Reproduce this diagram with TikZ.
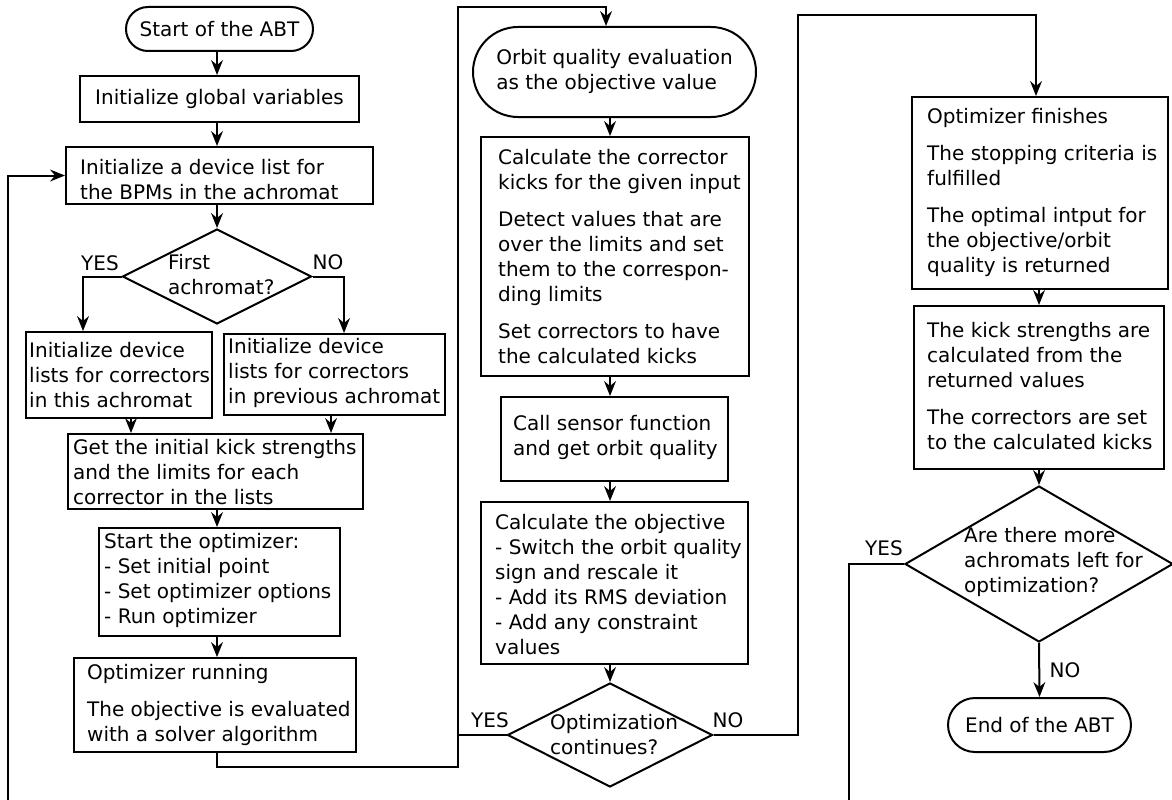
\documentclass[tikz,border=0pt]{standalone}
\usepackage{fontspec}
\setmainfont{DejaVu Sans}
\usetikzlibrary{shapes.geometric,shapes.misc,arrows.meta,calc}

\begin{document}
\begin{tikzpicture}[x=1pt,y=-1pt,
  every node/.style={font=\fontsize{20}{25}\selectfont},
  sz/.style 2 args={minimum width=#1, minimum height=#2},
  box/.style={draw, line width=2pt, rectangle, inner sep=0pt},
  term/.style={draw, line width=2pt, rounded rectangle, inner sep=0pt},
  dec/.style={draw, line width=2pt, diamond, inner sep=0pt},
  txt/.style={anchor=west, align=left, inner sep=0pt},
  lbl/.style={inner sep=0pt},
  wire/.style={line width=2pt},
  arr/.style={wire, -{Stealth[length=15pt,width=12pt,inset=5pt,line width=0pt]}}
]
\useasboundingbox (0,0) rectangle (1172,800);

% ---------- first column ----------
\node[term, sz={187pt}{44pt}] (start) at (219.5,29) {Start of the ABT};
\node[box, sz={279pt}{46pt}] (glob) at (219.5,99) {Initialize global variables};
\node[box, sz={307pt}{57pt}] (dev) at (219.5,175.5) {};
\node[txt] (devT) at (80,180) {Initialize a device list for\\the BPMs in the achromat};
\node[dec, sz={189pt}{95pt}] (first) at (217,276.5) {};
\node[txt] (firstT) at (168,275) {First\\achromat?};
\node[box, sz={186pt}{86pt}] (thisL) at (119,375) {};
\node[txt] (thisT) at (29,375) {Initialize device\\lists for correctors\\in this achromat};
\node[box, sz={221pt}{81pt}] (prevR) at (334.5,374.5) {};
\node[txt] (prevT) at (228,373) {Initialize device\\lists for correctors\\in previous achromat};
\node[box, sz={295pt}{75pt}] (kick) at (215.5,471.5) {};
\node[txt] (kickT) at (73,472) {Get the initial kick strengths\\and the limits for each\\corrector in the lists};
\node[box, sz={241pt}{108pt}] (sopt) at (219.5,582) {};
\node[txt] (soptT) at (104,580.5) {Start the optimizer:\\- Set initial point\\- Set optimizer options\\- Run optimizer};
\node[box, sz={282pt}{94pt}] (run) at (215,705) {};
\node[txt] (runT) at (87,705) {Optimizer running\\[12pt]The objective is evaluated\\with a solver algorithm};

% ---------- second column ----------
\node[term, sz={283pt}{90pt}] (orbit) at (614.5,72) {\begin{tabular}{@{}l@{}}Orbit quality evaluation\\as the objective value\end{tabular}};
\node[box, sz={268pt}{239pt}] (corr) at (615,256.5) {};
\node[txt] (corrT) at (498,257) {Calculate the corrector\\kicks for the given input\\[12pt]Detect values that are\\over the limits and set\\them to the correspon-\\ding limits\\[12pt]Set correctors to have\\the calculated kicks};
\node[box, sz={227pt}{84pt}] (sens) at (614.5,439) {};
\node[txt] (sensT) at (513,437.5) {Call sensor function\\and get orbit quality};
\node[box, sz={267pt}{162pt}] (obj) at (614.5,583) {};
\node[txt] (objT) at (495,584.5) {Calculate the objective\\- Switch the orbit quality\\sign and rescale it\\- Add its RMS deviation\\- Add any constraint\\values};
\node[dec, sz={205pt}{104pt}] (cont) at (610,735) {};
\node[txt] (contT) at (550,734.5) {Optimization\\continues?};

% ---------- third column ----------
\node[box, sz={256pt}{192pt}] (fin) at (1040,193) {};
\node[txt] (finT) at (927,192) {Optimizer finishes\\[12pt]The stopping criteria is\\fulfilled\\[12pt]The optimal intput for\\the objective/orbit\\quality is returned};
\node[box, sz={250pt}{163pt}] (kicks) at (1039,387.5) {};
\node[txt] (kicksT) at (927,386) {The kick strengths are\\calculated from the\\returned values\\[12pt]The correctors are set\\to the calculated kicks};
\node[dec, sz={268pt}{156pt}] (more) at (1039,564) {};
\node[txt] (moreT) at (964,562) {Are there more\\achromats left for\\optimization?};
\node[term, sz={183pt}{54pt}] (stop) at (1039.5,725) {End of the ABT};

% ---------- branch labels ----------
\node[lbl] (y1) at (100,263) {YES};
\node[lbl] (n1) at (328,262) {NO};
\node[lbl] (y2) at (490,720) {YES};
\node[lbl] (n2) at (728,720) {NO};
\node[lbl] (y3) at (884,548) {YES};
\node[lbl] (n3) at (1065,670) {NO};

% ---------- routing points ----------
\coordinate (j1) at (458,767);
\coordinate (j2) at (606,7);
\coordinate (k1) at (798,15);
\coordinate (k2) at (1036,15);
\coordinate (m1) at (849,830);
\coordinate (m2) at (8,830);

% ---------- connectors ----------
\draw[arr] (start.south -| first.north) -- (glob.north -| first.north);
\draw[arr] (glob.south -| first.north) -- (dev.north -| first.north);
\draw[arr] (dev.south -| first.north) -- (first.north);
\draw[arr] (first.west) -| ([xshift=58pt]thisL.north west);
\draw[arr] (first.east) -| ([xshift=121pt]prevR.north west);
\draw[arr] ([xshift=106pt]thisL.south west) -- ([xshift=106pt]thisL.south west |- kick.north);
\draw[arr] ([xshift=108pt]prevR.south west) -- ([xshift=108pt]prevR.south west |- kick.north);
\draw[arr] (kick.south -| first.north) -- (sopt.north -| first.north);
\draw[arr] (sopt.south -| first.north) -- (run.north -| first.north);
\draw[arr] (run.south -| first.north) |- (j1) |- (j2) -- (j2 |- orbit.north);
\draw[wire] (cont.west) -- (cont.west -| j1);

\draw[arr] (orbit.south -| cont.north) -- (corr.north -| cont.north);
\draw[arr] (corr.south -| cont.north) -- (sens.north -| cont.north);
\draw[arr] (sens.south -| cont.north) -- (obj.north -| cont.north);
\draw[arr] (obj.south -| cont.north) -- (cont.north);
\draw[arr] (cont.east) -| (k1) -- (k2) -- (k2 |- fin.north);

\draw[arr] (fin.south -| more.north) -- (kicks.north -| more.north);
\draw[arr] (kicks.south -| more.north) -- (more.north);
\draw[arr] (more.south) -- (stop.north);

\begin{scope}
  \clip (0,0) rectangle (1172,800);
  \draw[arr] (more.west) -| (m1) -- (m2) |- (dev.west);
\end{scope}
\end{tikzpicture}
\end{document}
